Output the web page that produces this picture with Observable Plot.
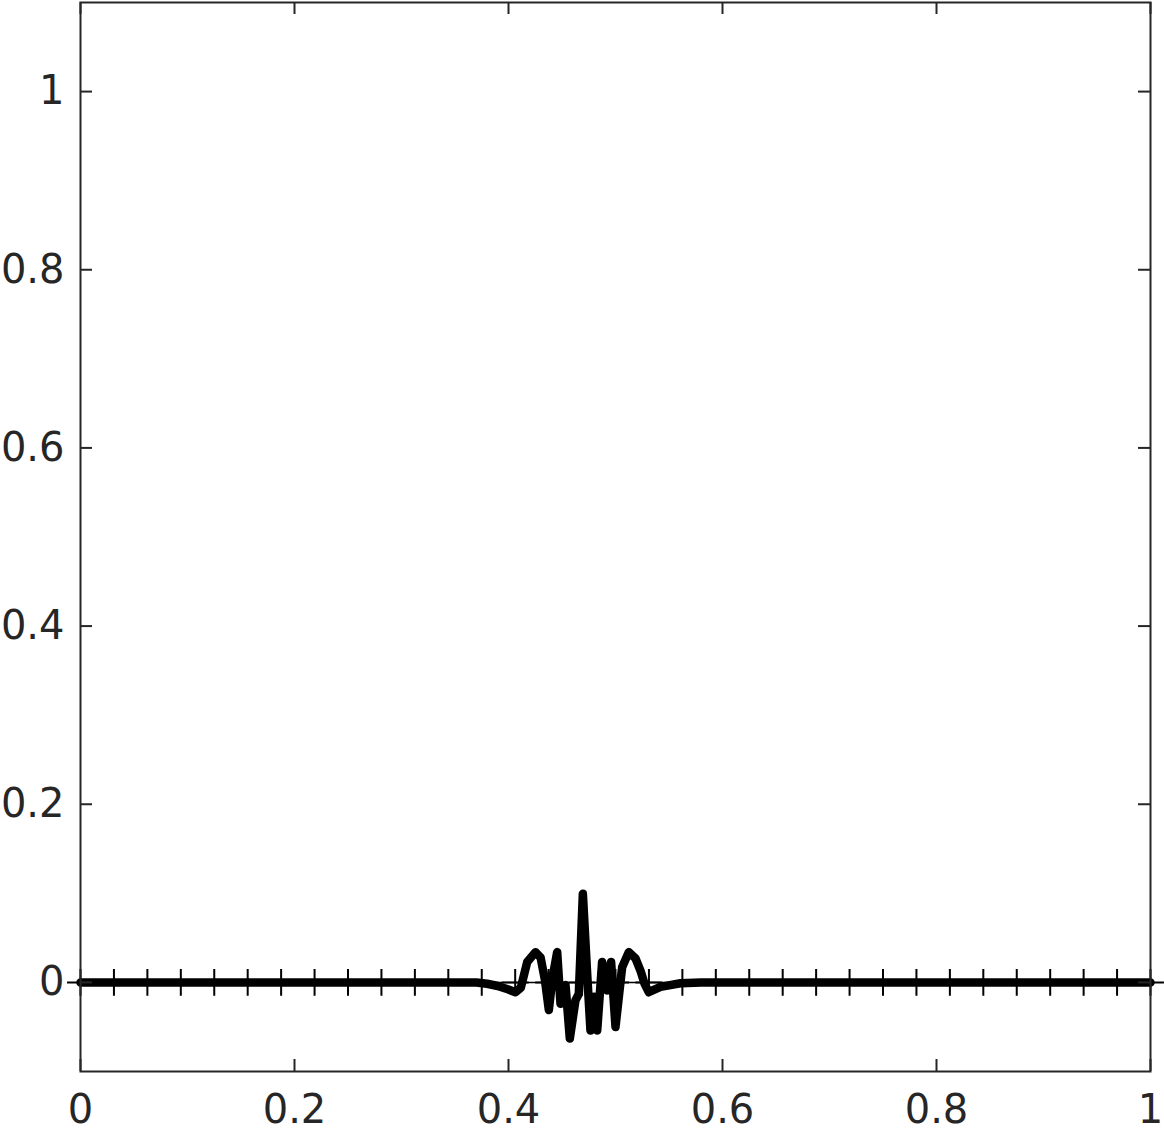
<!DOCTYPE html>
<html>
<head>
<meta charset="utf-8">
<script src="https://cdn.jsdelivr.net/npm/d3@7"></script>
<script src="https://cdn.jsdelivr.net/npm/@observablehq/plot@0.6"></script>
<style>
  html, body { margin: 0; padding: 0; background: #fff; }
  #chart { width: 1164px; height: 1129px; }
</style>
</head>
<body>
<div id="chart"></div>
<script>
// Mesh points (thin reference line with "+" markers)
const meshX = [0, 0.03125, 0.0625, 0.09375, 0.125, 0.15625, 0.1875, 0.21875, 0.25, 0.28125,
  0.3125, 0.34375, 0.375, 0.40625, 0.4375, 0.46875, 0.5, 0.53125, 0.5625, 0.59375,
  0.625, 0.65625, 0.6875, 0.71875, 0.75, 0.78125, 0.8125, 0.84375, 0.875, 0.90625,
  0.9375, 0.96875, 1];
const meshY = [0, 0, 0, 0, 0, 0, 0, 0, 0, 0, 0, 0, 0, 0, 0, 0, 0, 0, 0, 0, 0, 0, 0, 0, 0, 0, 0, 0, 0, 0, 0, 0, 0];

// Thick solution curve
const solX = [0, 0.37, 0.38, 0.39, 0.40, 0.4065, 0.4115, 0.4175, 0.4252, 0.430, 0.434, 0.4377,
  0.4410, 0.4455, 0.4486, 0.4533, 0.4573, 0.4626, 0.4657, 0.4695, 0.4735, 0.4766, 0.4797,
  0.4829, 0.4875, 0.4922, 0.4959, 0.5000, 0.5062, 0.5124, 0.5187, 0.5234, 0.5270, 0.5311,
  0.5420, 0.5607, 0.58, 1];
const solY = [0, 0, -0.0015, -0.004, -0.008, -0.011, -0.006, 0.023, 0.034, 0.028, 0.003, -0.031,
  0.004, 0.034, -0.024, -0.003, -0.063, -0.020, -0.013, 0.0995, 0.010, -0.054, -0.016,
  -0.054, 0.023, -0.009, 0.023, -0.050, 0.017, 0.034, 0.027, 0.013, -0.001, -0.011,
  -0.005, -0.001, 0, 0];

const xTicks = [0, 0.2, 0.4, 0.6, 0.8, 1];
const yTicks = [0, 0.2, 0.4, 0.6, 0.8, 1];

const W = 1164, H = 1129;
const mTop = 2, mBottom = 58, mLeft = 80, mRight = 14;
const plotH = H - mTop - mBottom, plotW = W - mLeft - mRight;
const tickLen = 12;
const axisColor = "#262626";

const mesh = meshX.map((x, i) => ({x, y: meshY[i]}));
const sol = solX.map((x, i) => ({x, y: solY[i]}));
const fmt = d3.format("~g");

const chart = Plot.plot({
  width: W,
  height: H,
  marginTop: mTop,
  marginBottom: mBottom,
  marginLeft: mLeft,
  marginRight: mRight,
  style: {fontFamily: "DejaVu Sans", background: "white", color: axisColor},
  x: {domain: [0, 1]},
  y: {domain: [-0.1, 1.1]},
  marks: [
    Plot.line(mesh, {x: "x", y: "y", stroke: "black", strokeWidth: 1.5}),
    Plot.dot(mesh, {x: "x", y: "y", symbol: "plus", r: 8.7, stroke: "black", strokeWidth: 2}),
    Plot.line(sol, {x: "x", y: "y", stroke: "black", strokeWidth: 8.5, strokeLinejoin: "round", strokeLinecap: "round"}),
    // inward tick marks on all four sides
    Plot.ruleX(xTicks, {x: d => d, insetTop: plotH - tickLen, stroke: axisColor, strokeWidth: 2}),
    Plot.ruleX(xTicks, {x: d => d, insetBottom: plotH - tickLen, stroke: axisColor, strokeWidth: 2}),
    Plot.ruleY(yTicks, {y: d => d, insetRight: plotW - tickLen, stroke: axisColor, strokeWidth: 2}),
    Plot.ruleY(yTicks, {y: d => d, insetLeft: plotW - tickLen, stroke: axisColor, strokeWidth: 2}),
    Plot.frame({stroke: axisColor, strokeWidth: 2}),
    Plot.axisX(xTicks, {anchor: "bottom", tickSize: 0, tickPadding: 23, fontSize: 40, tickFormat: fmt, label: null, fill: axisColor}),
    Plot.axisY(yTicks, {anchor: "left", tickSize: 0, tickPadding: 16, fontSize: 40, tickFormat: fmt, label: null, fill: axisColor})
  ]
});
document.getElementById("chart").appendChild(chart);
</script>
</body>
</html>
